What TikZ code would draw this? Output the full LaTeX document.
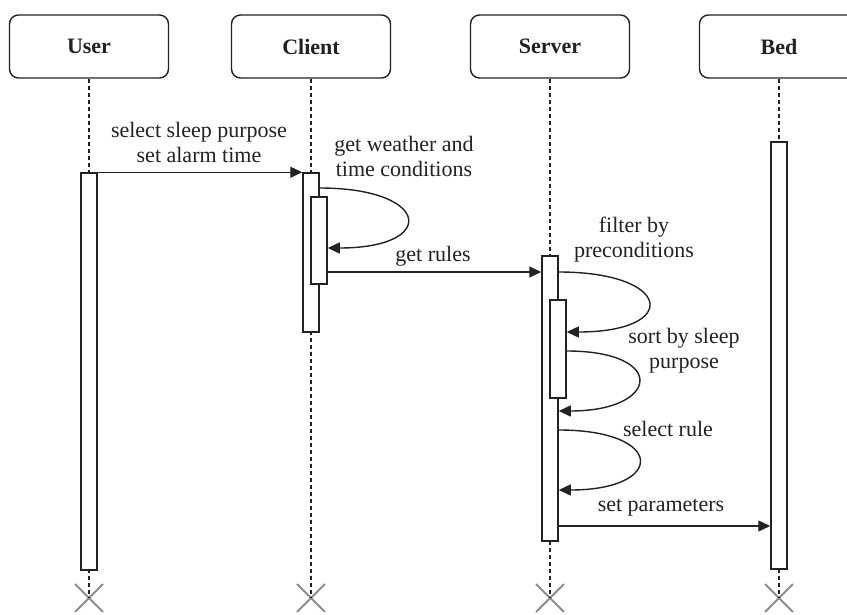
\documentclass[tikz,border=0pt]{standalone}
\usepackage{fontspec}
\setmainfont{Liberation Serif}
\usetikzlibrary{arrows.meta,shapes.misc}
\definecolor{ink}{HTML}{222222}
\definecolor{endgray}{HTML}{8C8C8C}
\tikzset{
  head/.style={draw=ink, line width=1.4pt, rounded corners=9pt, fill=white,
    minimum width=159pt, minimum height=63pt, inner sep=0pt,
    font=\fontsize{22}{25}\selectfont\bfseries, text=ink},
  actbar/.style={draw=ink, line width=1.5pt, fill=white, minimum width=16pt,
    inner sep=0pt},
  lifeline/.style={draw=ink, line width=1.3pt, dash pattern=on 4pt off 3pt},
  endmark/.style={cross out, draw=endgray, line width=1.8pt, minimum size=26pt,
    inner sep=0pt},
  msg/.style={draw=ink, line width=1.4pt, -{Triangle[length=12pt,width=11pt]}},
  lbl/.style={font=\fontsize{22}{25}\selectfont, text=ink, align=center,
    inner sep=0pt}
}
\begin{document}
\begin{tikzpicture}[x=1pt,y=-1pt]
\useasboundingbox (0,0) rectangle (847,614);
\clip (0,0) rectangle (847,614);
\fill[white] (0,0) rectangle (847,614);

% participants
\node[head] (user)   at (89,46.5)  {User};
\node[head] (client) at (311,46.5) {Client};
\node[head] (server) at (550,46.5) {Server};
\node[head] (bed)    at (779,46.5) {Bed};

% end markers
\node[endmark] (xuser)   at (89,598)  {};
\node[endmark] (xclient) at (311,598) {};
\node[endmark] (xserver) at (550,598) {};
\node[endmark] (xbed)    at (779,598) {};

% lifelines
\draw[lifeline] (user.south)   -- (xuser.center);
\draw[lifeline] (client.south) -- (xclient.center);
\draw[lifeline] (server.south) -- (xserver.center);
\draw[lifeline] (bed.south)    -- (xbed.center);

% activation bars
\node[actbar, minimum height=397pt] (ubar)  at (89,371.5)  {};
\node[actbar, minimum height=159pt] (cbar)  at (311,252.5) {};
\node[actbar, minimum height=87pt]  (cbar2) at (319,240.5) {};
\node[actbar, minimum height=285pt] (sbar)  at (550,398.5) {};
\node[actbar, minimum height=98pt]  (sbar2) at (558,349)   {};
\node[actbar, minimum height=427pt] (bbar)  at (779,355.5) {};

% message end points on the bars
\coordinate (c1a) at (cbar.east |- 0,188);
\coordinate (c1b) at (cbar2.east |- 0,248);
\coordinate (gra) at (cbar2.east |- 0,272);
\coordinate (grb) at (sbar.west |- 0,272);
\coordinate (s1a) at (sbar.east |- 0,272);
\coordinate (s1b) at (sbar2.east |- 0,332);
\coordinate (s2a) at (sbar2.east |- 0,351);
\coordinate (s2b) at (sbar.east |- 0,411);
\coordinate (s3a) at (sbar.east |- 0,430);
\coordinate (s3b) at (sbar.east |- 0,490);
\coordinate (spa) at (sbar.east |- 0,526);
\coordinate (spb) at (bbar.west |- 0,526);

% messages
\draw[msg] (ubar.north east) -- (cbar.north west);
\draw[msg] (c1a) .. controls +(111,0) and +(111,0) .. (c1b);
\draw[msg] (gra) -- (grb);
\draw[msg] (s1a) .. controls +(114,0) and +(114,0) .. (s1b);
\draw[msg] (s2a) .. controls +(101,0) and +(101,0) .. (s2b);
\draw[msg] (s3a) .. controls +(107,0) and +(107,0) .. (s3b);
\draw[msg] (spa) -- (spb);

% message labels
\node[lbl] (l1) at (199,142.5) {select sleep purpose\\set alarm time};
\node[lbl] (l2) at (404,156) {get weather and\\time conditions};
\node[lbl] (l3) at (433,256) {get rules};
\node[lbl] (l4) at (634,240) {filter by\\preconditions};
\node[lbl] (l5) at (684,350.5) {sort by sleep\\purpose};
\node[lbl] (l6) at (668,429) {select rule};
\node[lbl] (l7) at (661,508) {set parameters};
\end{tikzpicture}
\end{document}
